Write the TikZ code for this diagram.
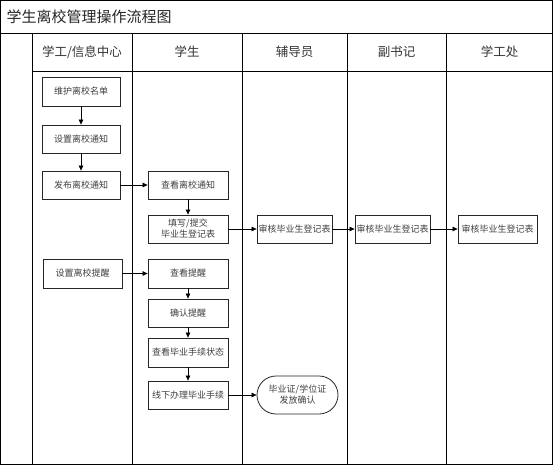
\documentclass[tikz,border=0pt]{standalone}
\usepackage{fontspec}
\setmainfont{Noto Sans CJK SC}
\usetikzlibrary{arrows.meta,shapes.misc}
\begin{document}
\begin{tikzpicture}[x=1pt,y=-1pt,
  lane/.style={draw=black,line width=0.9pt},
  box/.style={draw=black!85,line width=0.8pt,fill=white,inner sep=0pt,align=center,
    font=\fontsize{9}{11}\selectfont,text=black!75},
  endbox/.style={box,rounded rectangle,minimum width=81pt,minimum height=38pt},
  arr/.style={draw=black,line width=0.7pt,-{Triangle[length=5pt,width=4.5pt]}},
  head/.style={font=\fontsize{12.5}{14}\selectfont,text=black!80}]
\useasboundingbox (0,0) rectangle (553,465);
% frame
\draw[lane] (0.5,0.5) rectangle (552.5,464.5);
\draw[lane] (0.5,33) -- (552.5,33);
\draw[lane] (32,71.5) -- (552.5,71.5);
\foreach \x in {32,132,242.5,347,446} \draw[lane] (\x,33) -- (\x,464.5);
\node[anchor=west,font=\fontsize{15}{17}\selectfont,text=black!85] (title) at (3,16.5) {学生离校管理操作流程图};
\node[head] (h1) at (82,52) {学工/信息中心};
\node[head] (h2) at (187,52) {学生};
\node[head] (h3) at (294.5,52) {辅导员};
\node[head] (h4) at (396.5,52) {副书记};
\node[head] (h5) at (499.5,52) {学工处};
% boxes
\node[box,minimum width=78pt,minimum height=29pt] (n1) at (81,91.5) {维护离校名单};
\node[box,minimum width=78pt,minimum height=28pt] (n2) at (81,139) {设置离校通知};
\node[box,minimum width=78pt,minimum height=28pt] (n3) at (81,185) {发布离校通知};
\node[box,minimum width=80pt,minimum height=28pt] (s1) at (188,185) {查看离校通知};
\node[box,minimum width=80pt,minimum height=28pt] (s2) at (188,229) {填写/提交\\毕业生登记表};
\node[box,minimum width=79pt,minimum height=29pt] (r1) at (82.5,273.5) {设置离校提醒};
\node[box,minimum width=80pt,minimum height=29pt] (s3) at (188,273.5) {查看提醒};
\node[box,minimum width=80pt,minimum height=28pt] (s4) at (188,313) {确认提醒};
\node[box,minimum width=80pt,minimum height=29pt] (s5) at (188,352.5) {查看毕业手续状态};
\node[box,minimum width=80pt,minimum height=28pt] (s6) at (188,395) {线下办理毕业手续};
\node[endbox] (e) at (297.5,395) {毕业证/学位证\\发放确认};
\node[box,minimum width=75pt,minimum height=28pt] (f1) at (294.5,229) {审核毕业生登记表};
\node[box,minimum width=75pt,minimum height=28pt] (v1) at (392.5,229) {审核毕业生登记表};
\node[box,minimum width=79pt,minimum height=28pt] (x1) at (497.5,229) {审核毕业生登记表};
% arrows
\draw[arr] (n1) -- (n2);
\draw[arr] (n2) -- (n3);
\draw[arr] (n3) -- (s1);
\draw[arr] (s1) -- (s2);
\draw[arr] (s2) -- (f1);
\draw[arr] (f1) -- (v1);
\draw[arr] (v1) -- (x1);
\draw[arr] (r1) -- (s3);
\draw[arr] (s3) -- (s4);
\draw[arr] (s4) -- (s5);
\draw[arr] (s5) -- (s6);
\draw[arr] (s6) -- (e);
\end{tikzpicture}
\end{document}
